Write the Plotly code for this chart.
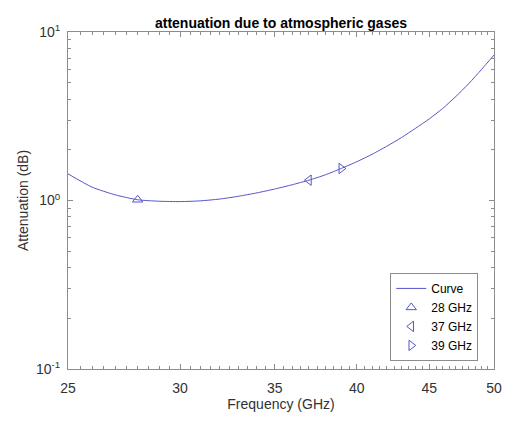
import plotly.graph_objects as go
import numpy as np

freq_ghz = [25, 26, 27, 28, 29, 30, 31, 32, 33, 34, 35, 36, 37, 38, 39, 40, 41, 42, 43, 44, 45, 46, 47, 48, 49, 50]
atten_db = [1.44, 1.20, 1.08, 1.01, 0.99, 0.985, 0.995, 1.02, 1.06, 1.11, 1.17, 1.24, 1.32, 1.42, 1.55, 1.70, 1.88, 2.10, 2.36, 2.68, 3.05, 3.52, 4.15, 4.95, 6.0, 7.3]

marker_names = ["28 GHz", "37 GHz", "39 GHz"]
marker_freq = [28, 37, 39]
marker_atten = [1.01, 1.32, 1.55]
marker_symbols = ["triangle-up-open", "triangle-left-open", "triangle-right-open"]

x_ticks = [25, 30, 35, 40, 45, 50]
y_ticks = [0.1, 1, 10]
y_ticktext = ["10<sup>-1</sup>", "10<sup>0</sup>", "10<sup>1</sup>"]

color = "rgb(85,85,200)"
axis_col = "rgb(140,140,140)"
font = "Liberation Sans, Arial, sans-serif"

fig = go.Figure()
fig.add_trace(go.Scatter(x=freq_ghz, y=atten_db, mode="lines", name="Curve",
                         line=dict(color=color, width=1, shape="spline", smoothing=0.6)))
for n, f, a, s in zip(marker_names, marker_freq, marker_atten, marker_symbols):
    fig.add_trace(go.Scatter(x=[f], y=[a], mode="markers", name=n,
                             marker=dict(symbol=s, size=9, color=color, line=dict(width=1, color=color))))

minor_x = [v for v in np.arange(25, 50.01, 0.5) if v not in x_ticks]
minor_y = [m * 10.0 ** e for e in (-1, 0) for m in range(2, 10)]

fig.update_layout(
    width=514, height=422,
    margin=dict(l=68, r=14, t=32, b=53),
    paper_bgcolor="white", plot_bgcolor="white",
    font=dict(family=font, size=14, color="rgb(50,50,50)"),
    title=dict(text="<b>attenuation due to atmospheric gases</b>", x=0.5, xref="paper", xanchor="center",
               y=1, yref="paper", yanchor="bottom", pad=dict(b=4),
               font=dict(family=font, size=14, color="black")),
    showlegend=True,
    legend=dict(x=0.963, y=0.024, xanchor="right", yanchor="bottom",
                bordercolor=axis_col, borderwidth=1, bgcolor="white",
                font=dict(size=12, color="black"), tracegroupgap=0, itemwidth=30),
    xaxis=dict(type="log", range=[np.log10(25), np.log10(50)],
               tickvals=x_ticks, ticktext=[str(t) for t in x_ticks],
               ticks="inside", ticklen=5, tickcolor=axis_col, ticklabelstandoff=6,
               showline=True, linecolor=axis_col, linewidth=1, mirror="allticks",
               showgrid=False, zeroline=False,
               minor=dict(tickvals=minor_x, ticks="inside", ticklen=3, tickcolor=axis_col, showgrid=False),
               title=dict(text="Frequency (GHz)", standoff=4, font=dict(size=14))),
    yaxis=dict(type="log", range=[-1, 1],
               tickvals=y_ticks, ticktext=y_ticktext,
               ticks="inside", ticklen=5, tickcolor=axis_col, ticklabelstandoff=4,
               showline=True, linecolor=axis_col, linewidth=1, mirror="allticks",
               showgrid=False, zeroline=False,
               minor=dict(tickvals=minor_y, ticks="inside", ticklen=3, tickcolor=axis_col, showgrid=False),
               title=dict(text="Attenuation (dB)", standoff=4, font=dict(size=14))),
)

fig.write_html("out.html")
